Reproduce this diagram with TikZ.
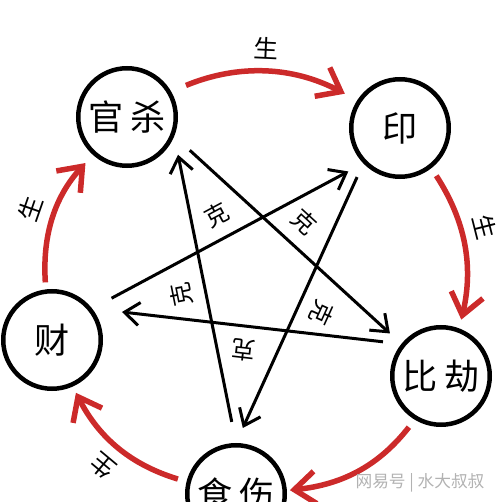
\documentclass[tikz,border=0pt]{standalone}
\usepackage{fontspec}
\setmainfont{Noto Sans CJK SC}
\usetikzlibrary{arrows.meta}
\definecolor{shengred}{RGB}{204,42,42}
\tikzset{>={Straight Barb[length=3mm,width=4.6mm]}}
\tikzset{wuxing/.style={draw, circle, line width=0.09cm, minimum size=1.95cm, inner sep=0pt, font=\fontsize{20}{20}\selectfont}}
\tikzset{sheng/.style={->, draw=shengred, line width=0.11cm, >={Straight Barb[length=4.2mm,width=6.5mm]}}}
\tikzset{ke/.style={->, line width=0.06cm}}
\tikzset{shenglbl/.style={sloped, allow upside down, above=1mm, text=black, font=\fontsize{14}{14}\selectfont}}
\tikzset{kelbl/.style={midway, sloped, allow upside down, above=1.2mm, font=\fontsize{13.5}{13.5}\selectfont}}

\begin{document}
\begin{tikzpicture}
  \useasboundingbox (0,0) rectangle (10,10.04);
  \node[wuxing] (gs) at (2.54,7.70) {官\hspace{1.5mm}杀};
  \node[wuxing] (yin) at (8.00,7.48) {印};
  \node[wuxing] (bj) at (8.82,2.52) {比\hspace{1.5mm}劫};
  \node[wuxing] (cai) at (1.04,3.24) {财};
  \node[wuxing] (ss) at (4.72,0.16) {食\hspace{1.5mm}伤};
  % sheng
  \draw[sheng, shorten <=0.32cm, shorten >=0.28cm] (gs.30) to[bend left=25] node[shenglbl, midway] {生} (yin.147);
  \draw[sheng, shorten <=0.18cm, shorten >=0.18cm] (yin.-52) to[bend left=23] node[shenglbl, pos=0.42] {生} (bj.69);
  \draw[sheng, shorten <=0.19cm, shorten >=0.06cm] (bj.-121) to[bend left=23] (ss.4);
  \draw[sheng, shorten <=0.18cm, shorten >=0.14cm] (ss.166) to[bend left=23] node[shenglbl, midway] {生} (cai.-66);
  \draw[sheng, shorten <=0.14cm, shorten >=0.22cm] (cai.97) to[bend left=23] node[shenglbl, midway] {生} (gs.-132);
  % ke
  \draw[ke, shorten <=0.43cm, shorten >=0.38cm] (ss.90) -- node[kelbl] {克} (gs.-22);
  \draw[ke, shorten <=0.42cm, shorten >=0.31cm] (gs.-22) -- node[kelbl] {克} (bj.141);
  \draw[ke, shorten <=0.37cm, shorten >=0.6cm] (bj.141) -- node[kelbl] {克} (cai.38);
  \draw[ke, shorten <=0.44cm, shorten >=0.34cm] (cai.38) -- node[kelbl] {克} (yin.-136);
  \draw[ke, shorten <=0.30cm, shorten >=0.33cm] (yin.-136) -- node[kelbl] {克} (ss.90);
  \node[text=gray!60, font=\fontsize{9.5}{9.5}\selectfont] (wm) at (8.4,0.38) {网易号\ |\ 水大叔叔};
\end{tikzpicture}
\end{document}
